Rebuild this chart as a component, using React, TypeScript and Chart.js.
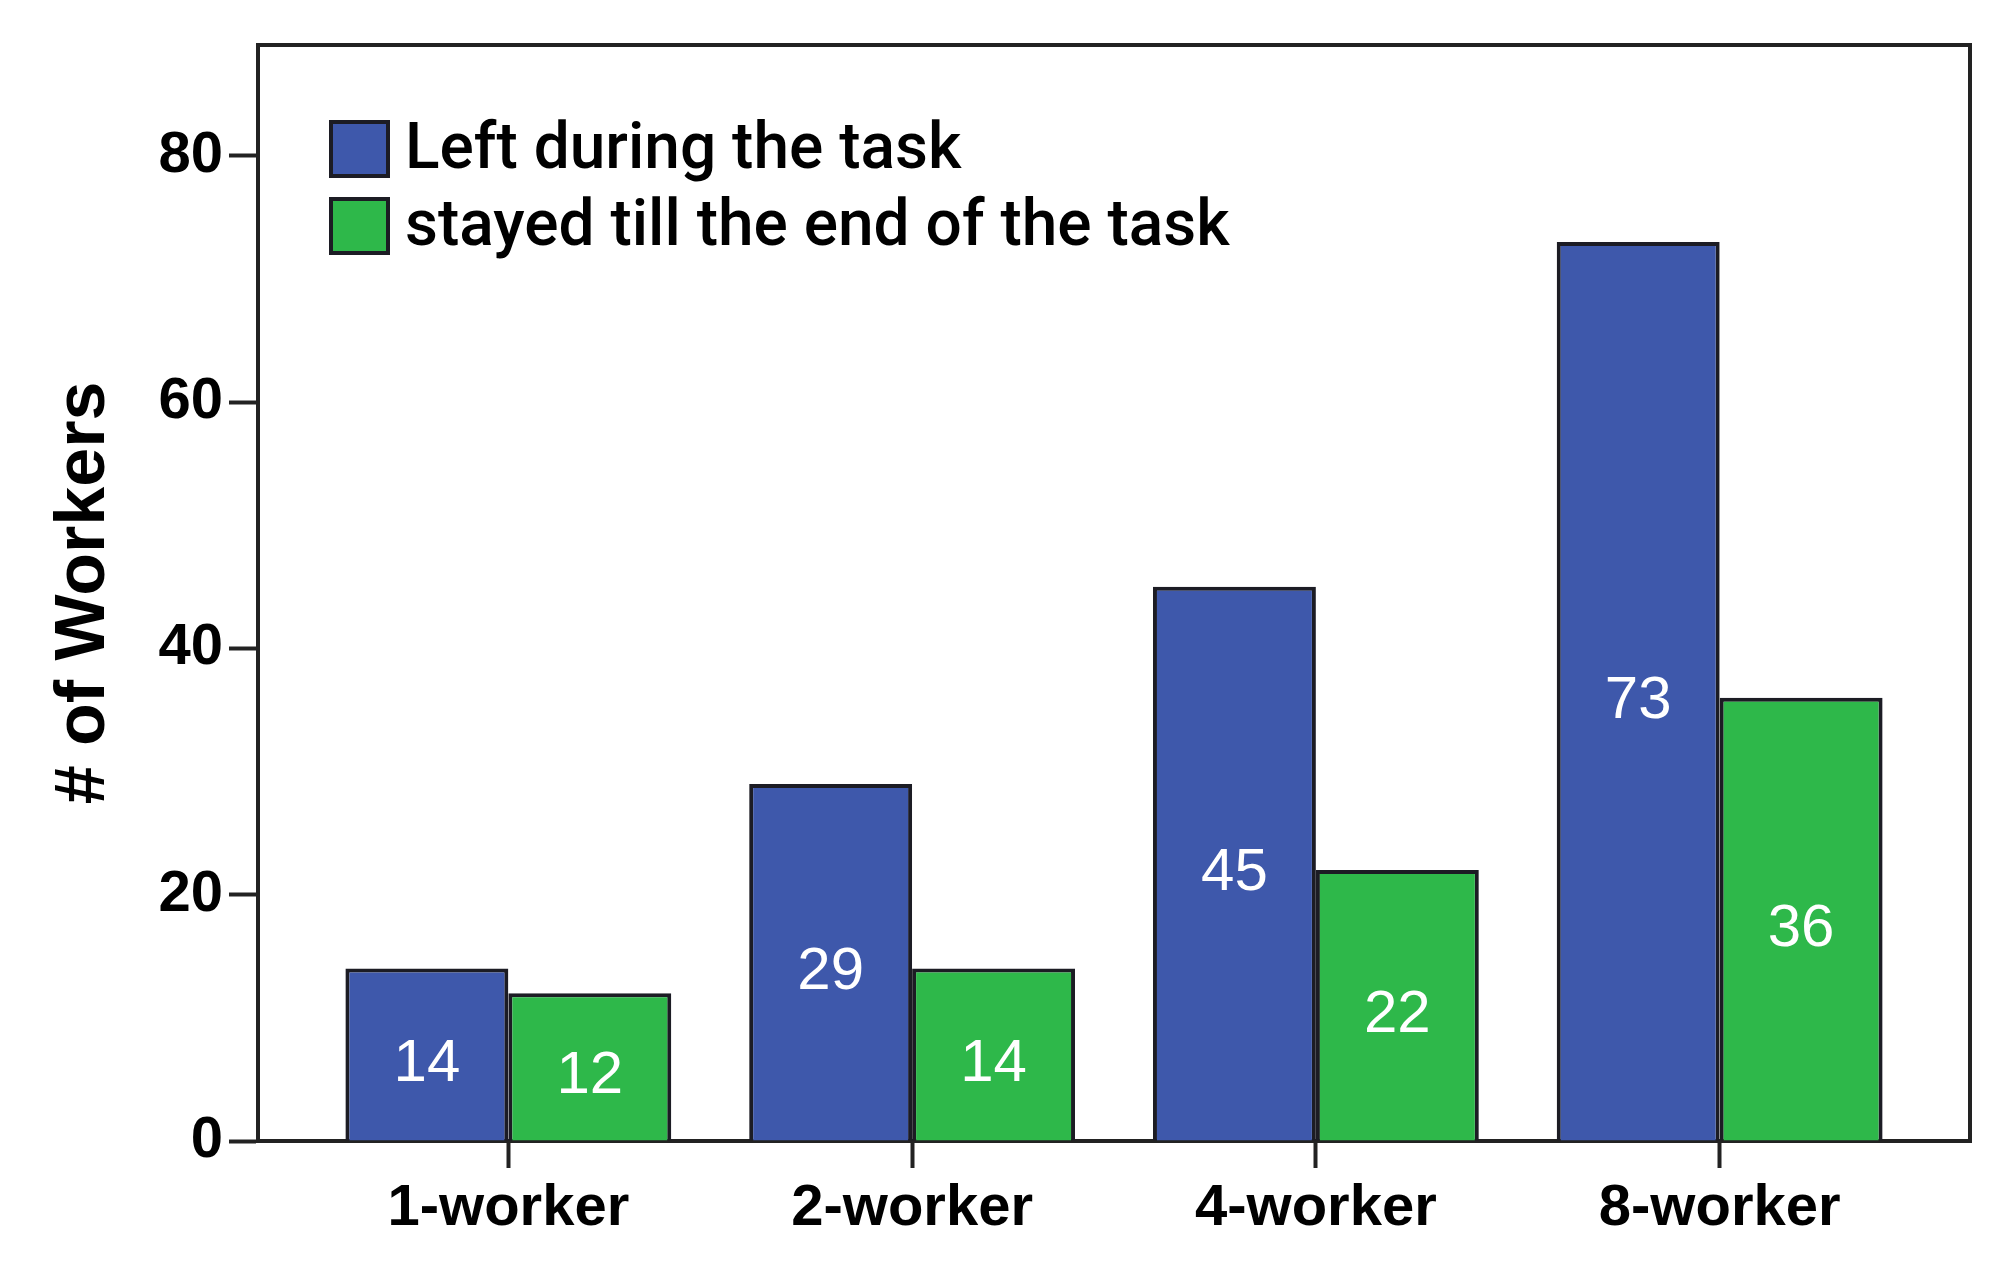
import React, { useEffect, useRef } from "react";
import { Chart, registerables } from "chart.js";

Chart.register(...registerables);

const categories = ["1-worker", "2-worker", "4-worker", "8-worker"];
const leftValues = [14, 29, 45, 73];
const stayedValues = [12, 14, 22, 36];
const seriesLabels = ["Left during the task", "stayed till the end of the task"];
const yTickValues = [0, 20, 40, 60, 80];

const BLUE = "#3E58AB";
const GREEN = "#2EB84A";
const EDGE = "#1c1c24";

const framePlugin = {
  id: "frame",
  beforeDatasetsDraw(chart: any) {
    const { ctx, chartArea } = chart;
    ctx.save();
    ctx.strokeStyle = "#222";
    ctx.lineWidth = 4;
    ctx.strokeRect(chartArea.left, chartArea.top, chartArea.right - chartArea.left, chartArea.bottom - chartArea.top);
    ctx.restore();
  },
};

const valueLabelPlugin = {
  id: "valueLabels",
  afterDatasetsDraw(chart: any) {
    const { ctx } = chart;
    ctx.save();
    ctx.fillStyle = "#ffffff";
    ctx.font = "normal 60px 'Liberation Sans', Arial, sans-serif";
    ctx.textAlign = "center";
    ctx.textBaseline = "middle";
    chart.data.datasets.forEach((ds: any, di: number) => {
      const meta = chart.getDatasetMeta(di);
      meta.data.forEach((el: any, i: number) => {
        const v = ds.data[i].y;
        const cy = (el.y + el.base) / 2 + 10;
        ctx.fillText(String(v), el.x, cy);
      });
    });
    ctx.restore();
  },
};

const legendPlugin = {
  id: "insideLegend",
  afterDatasetsDraw(chart: any) {
    const { ctx, chartArea } = chart;
    ctx.save();
    const bx = chartArea.left + 73;
    const by = chartArea.top + 77;
    const bw = 57;
    const bh = 54;
    const step = 77;
    ctx.font = "500 64px Roboto, 'Liberation Sans', sans-serif";
    ctx.textBaseline = "middle";
    ctx.textAlign = "left";
    chart.data.datasets.forEach((ds: any, i: number) => {
      const y = by + i * step;
      ctx.fillStyle = ds.backgroundColor;
      ctx.fillRect(bx, y, bw, bh);
      ctx.strokeStyle = EDGE;
      ctx.lineWidth = 4;
      ctx.strokeRect(bx, y, bw, bh);
      ctx.fillStyle = "#000";
      ctx.fillText(ds.label, bx + bw + 17, y + bh / 2 + 3);
    });
    ctx.restore();
  },
};

export default function App() {
  const canvasRef = useRef<HTMLCanvasElement | null>(null);

  useEffect(() => {
    document.body.style.margin = "0";
    const canvas = canvasRef.current;
    if (!canvas) return;
    const chart = new Chart(canvas, {
      type: "bar",
      data: {
        datasets: [
          {
            label: seriesLabels[0],
            data: leftValues.map((v, i) => ({ x: i, y: v })),
            backgroundColor: BLUE,
            borderColor: EDGE,
            borderWidth: 4,
            categoryPercentage: 0.807,
            barPercentage: 1,
          },
          {
            label: seriesLabels[1],
            data: stayedValues.map((v, i) => ({ x: i, y: v })),
            backgroundColor: GREEN,
            borderColor: EDGE,
            borderWidth: 4,
            categoryPercentage: 0.807,
            barPercentage: 1,
          },
        ],
      },
      options: {
        responsive: false,
        animation: false,
        layout: { padding: { top: 45, right: 40, left: 0, bottom: 0 } },
        plugins: {
          legend: { display: false },
          tooltip: { enabled: false },
        },
        scales: {
          x: {
            type: "linear",
            min: -0.62,
            max: 3.62,
            offset: false,
            afterBuildTicks: (axis: any) => {
              axis.ticks = categories.map((_, i) => ({ value: i }));
            },
            afterFit: (scale: any) => {
              scale.height = 125;
            },
            ticks: {
              autoSkip: false,
              maxRotation: 0,
              padding: 6,
              color: "#000",
              font: { family: "'Liberation Sans', Arial, sans-serif", size: 58, weight: "bold" },
              callback: (value: any) => categories[value] ?? "",
            },
            grid: {
              offset: false,
              drawOnChartArea: false,
              drawTicks: true,
              tickLength: 27,
              tickWidth: 4,
              tickColor: "#222",
            },
            border: { display: true, color: "#222", width: 4 },
          },
          y: {
            min: 0,
            max: 89,
            afterBuildTicks: (axis: any) => {
              axis.ticks = yTickValues.map((v) => ({ value: v }));
            },
            afterFit: (scale: any) => {
              scale.width = 258;
            },
            ticks: {
              padding: 6,
              color: "#000",
              font: { family: "'Liberation Sans', Arial, sans-serif", size: 58, weight: "bold" },
            },
            grid: {
              drawOnChartArea: false,
              drawTicks: true,
              tickLength: 29,
              tickWidth: 4,
              tickColor: "#222",
            },
            border: { display: true, color: "#222", width: 4 },
            title: {
              display: true,
              text: "# of Workers",
              color: "#000",
              font: { family: "'Liberation Sans', Arial, sans-serif", size: 70, weight: "bold" },
              padding: { top: 43, bottom: 0 },
            },
          },
        },
      },
      plugins: [framePlugin, valueLabelPlugin, legendPlugin],
    } as any);
    return () => chart.destroy();
  }, []);

  return (
    <div style={{ width: 2010, height: 1266, position: "relative" }}>
      <canvas ref={canvasRef} width={2010} height={1266} style={{ display: "block" }} />
    </div>
  );
}
